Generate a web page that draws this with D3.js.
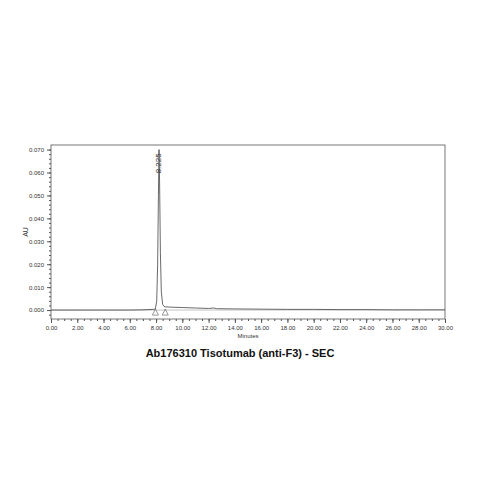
<!DOCTYPE html>
<html><head><meta charset="utf-8">
<script src="https://cdn.jsdelivr.net/npm/d3@7"></script>
<style>body{margin:0;background:#fff}</style></head>
<body><svg id="c" width="479" height="479"></svg>
<script>
const times = [0, 2, 4, 6, 7, 7.8, 7.95, 8.05, 8.12, 8.18, 8.225, 8.27, 8.33, 8.4, 8.5, 8.6, 8.7, 9, 10, 11, 12, 12.4, 12.6, 14, 16, 18, 20, 22, 24, 26, 28, 30];
const au = [0, 0, 0, 0, 0.0001, 0.0003, 0.0006, 0.004, 0.02, 0.05, 0.070, 0.055, 0.025, 0.008, 0.0025, 0.0016, 0.0014, 0.0013, 0.0011, 0.0009, 0.0007, 0.0009, 0.0006, 0.0005, 0.0004, 0.0003, 0.0003, 0.0002, 0.0002, 0.0001, 0.0001, 0.0001];
const markers = [7.95, 8.7];
const xTicks = d3.range(0, 30.01, 2);
const yTicks = d3.range(0, 0.0701, 0.01);

const svg = d3.select("#c");
const L = 51, R = 445, T = 145, B = 319;
const x = d3.scaleLinear().domain([0, 30]).range([L, R]);
const y = d3.scaleLinear().domain([-0.0039, 0.072]).range([B, T]);

svg.append("rect").attr("x", L).attr("y", T).attr("width", R - L).attr("height", B - T)
  .attr("fill", "none").attr("stroke", "#555").attr("stroke-width", 0.8);

const xa = svg.append("g").attr("transform", `translate(0,${B})`)
  .call(d3.axisBottom(x).tickValues(xTicks).tickFormat(d3.format(".2f")).tickSize(4));
xa.append("g").call(d3.axisBottom(x).tickValues(d3.range(0, 30.01, 0.5)).tickFormat("").tickSize(2));
const ya = svg.append("g").attr("transform", `translate(${L},0)`)
  .call(d3.axisLeft(y).tickValues(yTicks).tickFormat(d3.format(".3f")).tickSize(4));
ya.append("g").call(d3.axisLeft(y).tickValues(d3.range(-0.002, 0.0701, 0.002)).tickFormat("").tickSize(2));
svg.selectAll(".domain").remove();
svg.selectAll(".tick line").attr("stroke", "#555");
svg.selectAll(".tick text").attr("font-family", "Arial, Liberation Sans").attr("font-size", 6).attr("fill", "#333");

// baseline
svg.append("line").attr("x1", L).attr("x2", R).attr("y1", y(0)).attr("y2", y(0)).attr("stroke", "#888").attr("stroke-width", 0.5);

svg.append("path").datum(times.map((t, i) => [t, au[i]]))
  .attr("d", d3.line().x(d => x(d[0])).y(d => y(d[1])))
  .attr("fill", "none").attr("stroke", "#444").attr("stroke-width", 0.8);

svg.selectAll(".m").data(markers).join("path")
  .attr("d", d => `M${x(d) - 3},${y(-0.0022)}L${x(d) + 3},${y(-0.0022)}L${x(d)},${y(0.0005)}Z`)
  .attr("fill", "none").attr("stroke", "#555").attr("stroke-width", 0.6);

svg.append("text").attr("transform", `translate(${x(8.225) + 2},${y(0.064)}) rotate(-90)`)
  .attr("text-anchor", "middle").attr("font-family", "Arial, Liberation Sans").attr("font-size", 8).attr("fill", "#333").text("8.225");

svg.append("text").attr("transform", `translate(28,${(T + B) / 2}) rotate(-90)`).attr("text-anchor", "middle")
  .attr("font-family", "Arial, Liberation Sans").attr("font-size", 7).attr("fill", "#333").text("AU");
svg.append("text").attr("x", (L + R) / 2).attr("y", 338).attr("text-anchor", "middle")
  .attr("font-family", "Arial, Liberation Sans").attr("font-size", 6).attr("fill", "#333").text("Minutes");
svg.append("text").attr("x", 240).attr("y", 357).attr("text-anchor", "middle")
  .attr("font-family", "Arial, Liberation Sans").attr("font-weight", "bold").attr("font-size", 11).attr("fill", "#111")
  .text("Ab176310 Tisotumab (anti-F3) - SEC");
</script></body></html>
